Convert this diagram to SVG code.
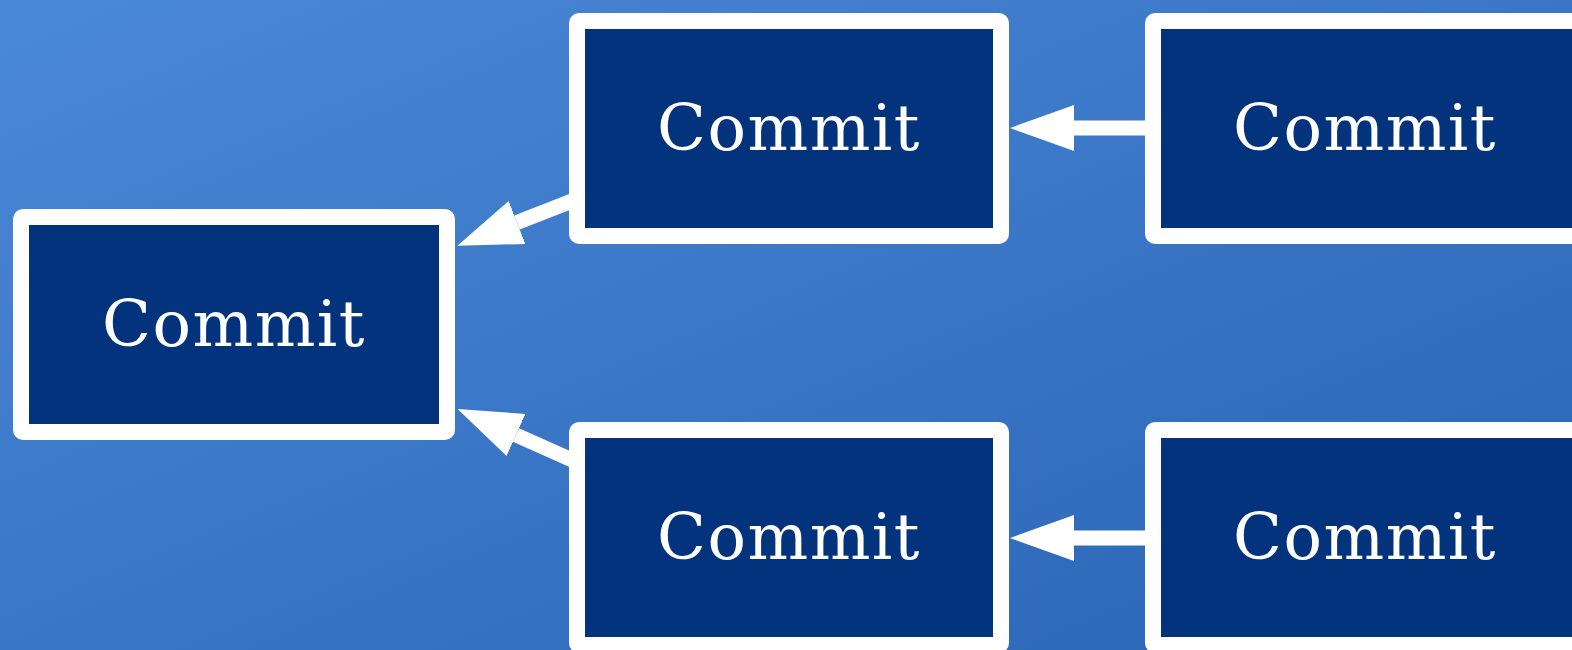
<svg xmlns="http://www.w3.org/2000/svg" width="1572" height="650" viewBox="0 0 1572 650">
<defs>
<linearGradient id="bg" x1="0" y1="0" x2="1" y2="1">
<stop offset="0" stop-color="#4a89d7"/>
<stop offset="1" stop-color="#2a64b4"/>
</linearGradient>
<marker id="ah" markerUnits="userSpaceOnUse" markerWidth="70" markerHeight="50" viewBox="0 -25 70 50" refX="0" refY="0" orient="auto">
<path d="M0,-23 L64,0 L0,23 z" fill="#ffffff"/>
</marker>
<style>
.box{fill:#03337d;stroke:#ffffff;stroke-width:16;stroke-linejoin:round}
.lbl{fill:#ffffff;font-family:"DejaVu Serif",serif;font-size:64px;text-anchor:middle;letter-spacing:1.5px}
.con{stroke:#ffffff;stroke-width:15;fill:none;marker-end:url(#ah)}
</style>
</defs>
<rect x="0" y="0" width="1572" height="650" fill="url(#bg)"/>
<g id="connectors">
<line class="con" x1="1150" y1="128" x2="1074" y2="128"/>
<line class="con" x1="1150" y1="538" x2="1074" y2="538"/>
<line class="con" x1="572" y1="201" x2="517" y2="222.5"/>
<line class="con" x1="572" y1="460" x2="516" y2="435"/>
</g>
<g id="n-left">
<rect class="box" x="21" y="217" width="426" height="215" rx="2"/>
<text class="lbl" x="234" y="346">Commit</text>
</g>
<g id="n-top-mid">
<rect class="box" x="577" y="21" width="424" height="215" rx="2"/>
<text class="lbl" x="789" y="150">Commit</text>
</g>
<g id="n-top-right">
<rect class="box" x="1153" y="21" width="440" height="215" rx="2"/>
<text class="lbl" x="1365" y="150">Commit</text>
</g>
<g id="n-bot-mid">
<rect class="box" x="577" y="430" width="424" height="215" rx="2"/>
<text class="lbl" x="789" y="559">Commit</text>
</g>
<g id="n-bot-right">
<rect class="box" x="1153" y="430" width="440" height="215" rx="2"/>
<text class="lbl" x="1365" y="559">Commit</text>
</g>
</svg>
